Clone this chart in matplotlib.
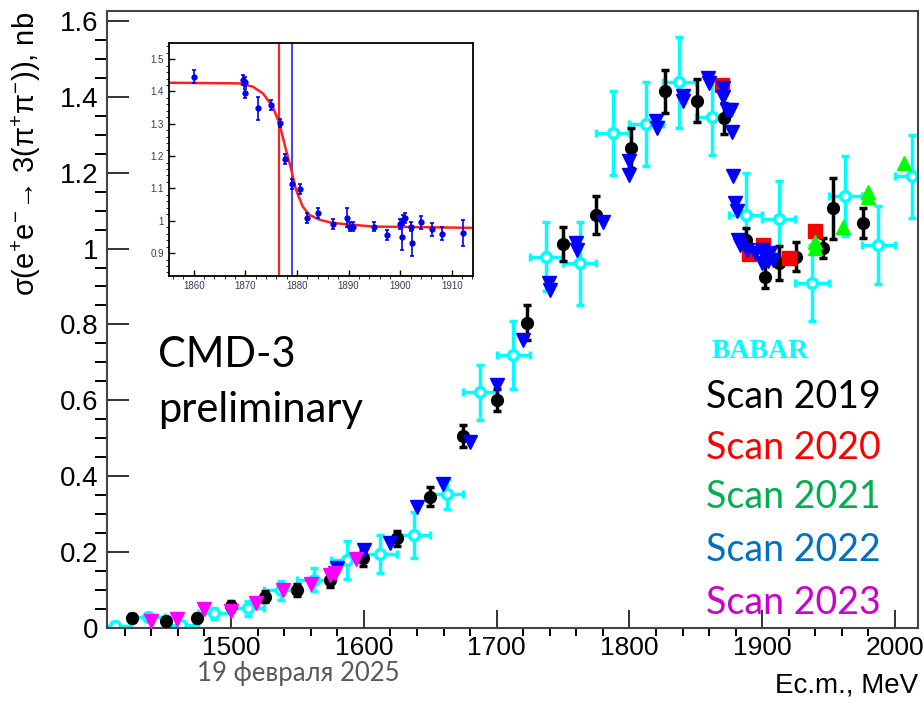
import matplotlib
matplotlib.use('Agg')
import matplotlib.pyplot as plt
import numpy as np
from matplotlib.ticker import MultipleLocator, FuncFormatter

plt.rcParams['mathtext.fontset'] = 'custom'
plt.rcParams['mathtext.rm'] = 'Liberation Sans'
plt.rcParams['mathtext.it'] = 'Liberation Sans'
plt.rcParams['font.family'] = ['Liberation Sans', 'DejaVu Sans']

# ---- main plot data (E c.m. in MeV, cross section in nb) ----
babar_x = [1412.5, 1437.5, 1462.5, 1487.5, 1512.5, 1537.5, 1562.5, 1587.5, 1612.5, 1637.5,
           1662.5, 1687.5, 1712.5, 1737.5, 1762.5, 1787.5, 1812.5, 1837.5, 1862.5, 1887.5,
           1912.5, 1937.5, 1962.5, 1987.5, 2012.5]
babar_y = [0.005, 0.030, 0.008, 0.039, 0.052, 0.100, 0.127, 0.179, 0.195, 0.245,
           0.353, 0.621, 0.720, 0.979, 0.961, 1.305, 1.328, 1.438, 1.346, 1.089,
           1.078, 0.910, 1.139, 1.009, 1.190]
babar_err = [0.01, 0.01, 0.01, 0.015, 0.02, 0.025, 0.03, 0.05, 0.05, 0.06,
             0.04, 0.073, 0.09, 0.09, 0.11, 0.11, 0.11, 0.12, 0.10, 0.11,
             0.10, 0.10, 0.105, 0.103, 0.11]

scan2019_x = [1425.2, 1451.1, 1474.2, 1499.8, 1525.6, 1549.5, 1574.5, 1599.6, 1624.8, 1649.5,
              1674.9, 1700.5, 1723.2, 1749.8, 1774.8, 1801.0, 1826.8, 1851.1, 1871.2, 1887.8,
              1902.1, 1912.5, 1925.8, 1945.9, 1953.0, 1975.6]
scan2019_y = [0.026, 0.019, 0.026, 0.058, 0.083, 0.100, 0.127, 0.184, 0.236, 0.346,
              0.506, 0.601, 0.805, 1.012, 1.089, 1.264, 1.414, 1.390, 1.343, 1.023,
              0.926, 0.961, 0.979, 1.001, 1.106, 1.068]
scan2019_err = [0.01, 0.01, 0.01, 0.012, 0.015, 0.015, 0.018, 0.02, 0.02, 0.025,
                0.03, 0.03, 0.045, 0.045, 0.05, 0.053, 0.057, 0.057, 0.04, 0.03,
                0.03, 0.045, 0.037, 0.027, 0.081, 0.04]

scan2020_x = [1869.5, 1890.3, 1900.6, 1920.0, 1939.8]
scan2020_y = [1.431, 0.985, 1.009, 0.974, 1.047]

scan2021_x = [1939.5, 1940.0, 1960.6, 1979.5, 1980.0, 2007.0]
scan2021_y = [1.018, 1.002, 1.058, 1.150, 1.135, 1.226]

scan2022_x = [1579.6, 1600.0, 1619.7, 1639.8, 1659.9, 1680.0, 1700.0, 1720.1, 1739.7, 1740.0,
              1759.8, 1760.2, 1780.3, 1799.5, 1800.0, 1820.0, 1820.5, 1840.1, 1840.5, 1859.4,
              1860.0, 1870.2, 1870.7, 1873.2, 1876.2, 1877.0, 1877.8, 1879.5, 1880.8, 1881.8,
              1883.1, 1888.3, 1894.6, 1899.6, 1902.1, 1905.9, 1899.6, 1904.6, 1908.4]
scan2022_y = [0.157, 0.206, 0.223, 0.320, 0.380, 0.491, 0.640, 0.759, 0.910, 0.890,
              1.014, 0.995, 1.071, 1.230, 1.195, 1.335, 1.318, 1.402, 1.388, 1.449,
              1.436, 1.422, 1.400, 1.365, 1.365, 1.308, 1.190, 1.119, 1.100, 1.023,
              1.009, 0.996, 0.988, 0.996, 0.979, 0.988, 0.961, 0.966, 0.970]

scan2023_x = [1439.5, 1459.6, 1479.7, 1499.8, 1518.8, 1539.4, 1560.0, 1574.5, 1578.3, 1594.0]
scan2023_y = [0.019, 0.023, 0.049, 0.046, 0.065, 0.100, 0.116, 0.140, 0.146, 0.181]

# ---- inset data (zoom of the 2022 scan near the nucleon threshold) ----
ins_x = [1860.0, 1869.5, 1870.0, 1870.0, 1872.5, 1875.05, 1876.7, 1877.7, 1879.05, 1880.5,
         1882.0, 1884.0, 1886.9, 1889.7, 1890.2, 1890.8, 1895.0, 1897.4, 1900.0, 1900.5,
         1900.9, 1900.4, 1902.1, 1902.2, 1904.1, 1906.1, 1908.1, 1912.1]
ins_y = [1.445, 1.435, 1.430, 1.394, 1.348, 1.358, 1.303, 1.190, 1.114, 1.098,
         1.008, 1.024, 0.990, 1.010, 0.982, 0.982, 0.982, 0.955, 0.990, 1.003,
         1.008, 0.951, 0.982, 0.930, 0.995, 0.974, 0.960, 0.962]
ins_err = [0.02, 0.015, 0.015, 0.015, 0.036, 0.015, 0.012, 0.015, 0.015, 0.015,
           0.015, 0.015, 0.015, 0.03, 0.015, 0.015, 0.015, 0.015, 0.015, 0.015,
           0.015, 0.04, 0.015, 0.04, 0.02, 0.02, 0.02, 0.04]
fit_x = [1855.6, 1868.85, 1871.4, 1873.4, 1875.3, 1876.6, 1877.7, 1878.9, 1879.8, 1881.1,
         1882.4, 1884.4, 1886.9, 1894.7, 1914.0]
fit_y = [1.427, 1.425, 1.415, 1.394, 1.353, 1.300, 1.230, 1.157, 1.096, 1.044,
         1.018, 1.003, 0.993, 0.982, 0.978]
line_red = 1876.6
line_blue = 1879.05

W, H = 924, 706
fig = plt.figure(figsize=(W / 100, H / 100), dpi=100)
ax = fig.add_axes([107 / W, 1 - 628 / H, (918 - 107) / W, (628 - 11) / H])

cyan = '#00ffff'
ax.errorbar(babar_x, babar_y, xerr=12.5, yerr=babar_err, fmt='o', ms=7, mfc='white', mec=cyan,
            mew=2.5, ecolor=cyan, elinewidth=2.5, capsize=3, capthick=2.5, zorder=2)
ax.errorbar(scan2019_x, scan2019_y, yerr=scan2019_err, fmt='o', ms=8.5, color='black',
            elinewidth=2.5, capsize=3, capthick=2.5, zorder=3)
ax.plot(scan2020_x, scan2020_y, 's', ms=10.5, color='#ff0000', zorder=4)
ax.plot(scan2021_x, scan2021_y, '^', ms=10, color='#00ff00', zorder=5)
ax.plot(scan2022_x, scan2022_y, 'v', ms=10, color='#0000ff', zorder=6)
ax.plot(scan2023_x, scan2023_y, 'v', ms=10, color='#ff00ff', zorder=7)

ax.set_xlim(1406.6, 2017.3)
ax.set_ylim(0, 1.626)
ax.xaxis.set_major_locator(MultipleLocator(100))
ax.xaxis.set_minor_locator(MultipleLocator(20))
ax.yaxis.set_major_locator(MultipleLocator(0.2))
ax.yaxis.set_minor_locator(MultipleLocator(0.05))
ax.yaxis.set_major_formatter(FuncFormatter(lambda v, p: '%g' % round(v, 2)))
ax.tick_params(axis='both', direction='in', width=1.4, colors='#333333', labelcolor='black')
ax.tick_params(axis='x', which='major', length=13, pad=6, labelsize=19)
ax.tick_params(axis='x', which='minor', length=6, width=1.4)
ax.tick_params(axis='y', which='major', length=16, pad=6, labelsize=20)
ax.tick_params(axis='y', which='minor', length=8.5, width=1.4)
for s in ax.spines.values():
    s.set_linewidth(1.5)
    s.set_color('#444444')

fig.text(26 / W, 1 - 12 / H, r'σ(e$^{+}$e$^{-}$→ 3(π$^{+}$π$^{-}$)), nb', rotation=90,
         ha='center', va='top', fontsize=21)
fig.text(918 / W, 1 - 686 / H, 'Ec.m., MeV', ha='right', va='center', fontsize=20)

calib = ['Lato', 'DejaVu Sans']
fig.text(158 / W, 1 - 355 / H, 'CMD-3', ha='left', va='center', fontsize=30, family=calib)
fig.text(158 / W, 1 - 410 / H, 'preliminary', ha='left', va='center', fontsize=30, family=calib)
fig.text(712 / W, 1 - 352 / H, 'BABAR', ha='left', va='center', fontsize=20,
         family='Liberation Serif', weight='bold', color=cyan)
labels = ['Scan 2019', 'Scan 2020', 'Scan 2021', 'Scan 2022', 'Scan 2023']
label_colors = ['black', '#ff0000', '#00b050', '#0070c0', '#cc00cc']
label_y = [397, 448, 497, 550, 603]
for t, c, yy in zip(labels, label_colors, label_y):
    fig.text(706 / W, 1 - yy / H, t, ha='left', va='center', fontsize=27, family=calib, color=c)
fig.text(197 / W, 1 - 674 / H, '19 февраля 2025', ha='left', va='center', fontsize=18.5,
         family=calib, color='#595959')

# ---- inset ----
ax2 = fig.add_axes([169 / W, 1 - 276 / H, 304 / W, 233 / H])
ax2.plot(fit_x, fit_y, color='#ff2020', lw=1.8, zorder=2)
ax2.axvline(line_red, color='#ff2020', lw=1.6, zorder=1)
ax2.axvline(line_blue, color='#2020ff', lw=1.2, zorder=1)
ax2.errorbar(ins_x, ins_y, yerr=ins_err, fmt='o', ms=3.5, color='#0000ee', elinewidth=1.2,
             capsize=1.5, capthick=1.2, zorder=3)
ax2.set_xlim(1855.2, 1914.1)
ax2.set_ylim(0.829, 1.55)
ax2.xaxis.set_major_locator(MultipleLocator(10))
ax2.xaxis.set_minor_locator(MultipleLocator(2))
ax2.yaxis.set_major_locator(MultipleLocator(0.1))
ax2.yaxis.set_minor_locator(MultipleLocator(0.02))
ax2.yaxis.set_major_formatter(FuncFormatter(lambda v, p: '%g' % round(v, 2)))
ax2.tick_params(axis='both', direction='in', labelsize=7, labelcolor='#3a3a5a', width=1)
ax2.tick_params(which='major', length=4.5)
ax2.tick_params(which='minor', length=2.5)
for s in ax2.spines.values():
    s.set_linewidth(1.3)
    s.set_color('black')

fig.savefig('out.png', dpi=100)
